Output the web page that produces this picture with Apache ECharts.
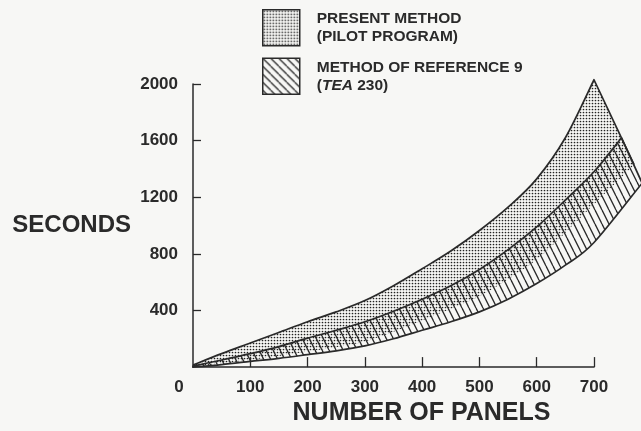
<!DOCTYPE html>
<html><head><meta charset="utf-8">
<script src="https://cdn.jsdelivr.net/npm/echarts@6/dist/echarts.min.js"></script>
<style>html,body{margin:0;padding:0;background:#f7f7f5;}#chart{width:641px;height:431px;}</style>
</head><body><div id="chart"></div>
<script>
// ---- data ----
const panels = [0,50,100,150,200,250,300,350,400,450,500,550,600,650,700];
const presentUpper = [15,95,170,245,320,390,470,575,695,820,965,1130,1330,1620,2030];
const presentLower = [5,25,50,78,110,140,180,250,330,410,500,620,760,950,1150];
const presentLowerEnd = [770,1430];
const refUpper = [8,50,95,145,205,260,320,395,480,575,690,830,990,1180,1380];
const refUpperEnd = [748,1620];
const refLower = [0,18,40,62,88,115,150,200,260,320,390,480,590,720,880];
const refLowerEnd = [784,1300];
const xTicks = [0,100,200,300,400,500,600,700];
const xTickMarks = [100,200,300,400,500,600,700];
const yTicks = [400,800,1200,1600,2000];
const seriesNames = ['PRESENT METHOD\n(PILOT PROGRAM)', 'METHOD OF REFERENCE 9\n(TEA 230)'];

const INK = '#2a2a2a';
const FONT = 'Liberation Sans, Arial, Helvetica, sans-serif';

function dotCanvas(){
  const c = document.createElement('canvas'); c.width = 3; c.height = 3;
  const g = c.getContext('2d');
  g.fillStyle = '#222';
  g.beginPath(); g.arc(1.5,1.5,0.85,0,Math.PI*2); g.fill();
  return c;
}
function hatchCanvas(w, h){
  const c = document.createElement('canvas'); c.width = w; c.height = h;
  const g = c.getContext('2d');
  g.strokeStyle = '#2a2a2a'; g.lineWidth = 1.3;
  for (const o of [-w,0,w]) { g.beginPath(); g.moveTo(o,0); g.lineTo(o+w,h); g.stroke(); }
  return c;
}
const dotFill = {image: dotCanvas(), repeat: 'repeat'};
const hatchFill = {image: hatchCanvas(7, 14), repeat: 'repeat'};
const hatchLegendFill = {image: hatchCanvas(8, 8), repeat: 'repeat'};

function pairs(xs, ys, end){ const p = xs.map((x,i)=>[x, ys[i]]); if (end) p.push(end); return p; }
const presentUpperPts = pairs(panels, presentUpper);
const presentLowerPts = pairs(panels, presentLower, presentLowerEnd);
const refUpperPts = pairs(panels, refUpper, refUpperEnd);
const refLowerPts = pairs(panels, refLower, refLowerEnd);

// Catmull-Rom smoothing of pixel points into SVG path commands (without the initial M)
function smoothCmds(pts){
  let s = '';
  for (let i = 0; i < pts.length - 1; i++) {
    const p0 = pts[Math.max(i-1,0)], p1 = pts[i], p2 = pts[i+1], p3 = pts[Math.min(i+2, pts.length-1)];
    const c1 = [p1[0] + (p2[0]-p0[0])/6, p1[1] + (p2[1]-p0[1])/6];
    const c2 = [p2[0] - (p3[0]-p1[0])/6, p2[1] - (p3[1]-p1[1])/6];
    s += ' C' + c1[0].toFixed(2) + ',' + c1[1].toFixed(2) + ' ' + c2[0].toFixed(2) + ',' + c2[1].toFixed(2) + ' ' + p2[0].toFixed(2) + ',' + p2[1].toFixed(2);
  }
  return s;
}
function P(p){ return p[0].toFixed(2) + ',' + p[1].toFixed(2); }

function band(upperPts, lowerPts, fill, fullOutline){
  return function(params, api){
    const up = upperPts.map(p=>api.coord(p));
    const lo = lowerPts.map(p=>api.coord(p));
    const loR = lo.slice().reverse();
    const upPath = 'M' + P(up[0]) + smoothCmds(up);
    const area = upPath + ' L' + P(loR[0]) + smoothCmds(loR) + ' Z';
    const outline = fullOutline ? area : upPath + ' L' + P(loR[0]);
    return {type:'group', children:[
      {type:'path', shape:{pathData: area}, style:{fill:fill, stroke:null}},
      {type:'path', shape:{pathData: outline}, style:{fill:null, stroke:INK, lineWidth:1.7, lineJoin:'round'}}
    ]};
  };
}

const chart = echarts.init(document.getElementById('chart'), null, {renderer:'canvas'});
chart.setOption({
  backgroundColor: '#f7f7f5',
  animation: false,
  grid: {left: 193, right: 47, top: 84, bottom: 62},
  legend: {
    orient: 'vertical', left: 257, top: 4,
    itemWidth: 37, itemHeight: 36, itemGap: 11, icon: 'rect',
    itemStyle: {borderColor: INK, borderWidth: 1.5},
    data: [
      {name: seriesNames[0]},
      {name: seriesNames[1], itemStyle: {color: hatchLegendFill, borderColor: INK, borderWidth: 1.5}}
    ],
    formatter: function(name){
      return name.indexOf('TEA') >= 0 ? 'METHOD OF REFERENCE 9\n({i|TEA} 230)' : name;
    },
    textStyle: {
      color: INK, fontFamily: FONT, fontWeight: 'bold', fontSize: 15.5, lineHeight: 18,
      padding: [0,0,0,12],
      rich: {i: {fontStyle: 'italic', fontWeight: 'bold', fontFamily: FONT, fontSize: 15.5, color: INK}}
    }
  },
  xAxis: {
    type: 'value', min: 0, max: 700,
    axisLine: {show: true, lineStyle: {color: INK, width: 1.5}},
    axisTick: {show: true, inside: true, length: 10, customValues: xTickMarks, lineStyle: {color: INK, width: 1.3}},
    axisLabel: {
      customValues: xTicks, margin: 12, color: INK, fontFamily: FONT, fontWeight: 'bold', fontSize: 17,
      formatter: function(v){ return v === 0 ? '{z|0}' : String(v); },
      rich: {z: {padding: [0,28,0,0], color: INK, fontFamily: FONT, fontWeight: 'bold', fontSize: 17}}
    },
    splitLine: {show: false},
    name: 'NUMBER OF PANELS', nameLocation: 'middle', nameGap: 33,
    nameTextStyle: {color: INK, fontFamily: FONT, fontWeight: 'bold', fontSize: 25, padding: [0,0,0,56]}
  },
  yAxis: {
    type: 'value', min: 0, max: 2000, interval: 400,
    axisLine: {show: true, lineStyle: {color: INK, width: 1.5}},
    axisTick: {show: true, inside: true, length: 8, customValues: yTicks, lineStyle: {color: INK, width: 1.3}},
    axisLabel: {customValues: yTicks, margin: 15, color: INK, fontFamily: FONT, fontWeight: 'bold', fontSize: 17,
      formatter: function(v){ return String(v); }},
    splitLine: {show: false},
    name: 'SECONDS', nameLocation: 'middle', nameRotate: 0, nameGap: 62,
    nameTextStyle: {color: INK, fontFamily: FONT, fontWeight: 'bold', fontSize: 24, padding: [6,0,0,0]}
  },
  series: [
    {type: 'custom', name: seriesNames[0], data: [[0,0]], clip: false,
     itemStyle: {color: dotFill}, renderItem: band(presentUpperPts, presentLowerPts, dotFill, false)},
    {type: 'custom', name: seriesNames[1], data: [[0,0]], clip: false,
     itemStyle: {color: hatchFill}, renderItem: band(refUpperPts, refLowerPts, hatchFill, true)}
  ]
});
</script></body></html>
